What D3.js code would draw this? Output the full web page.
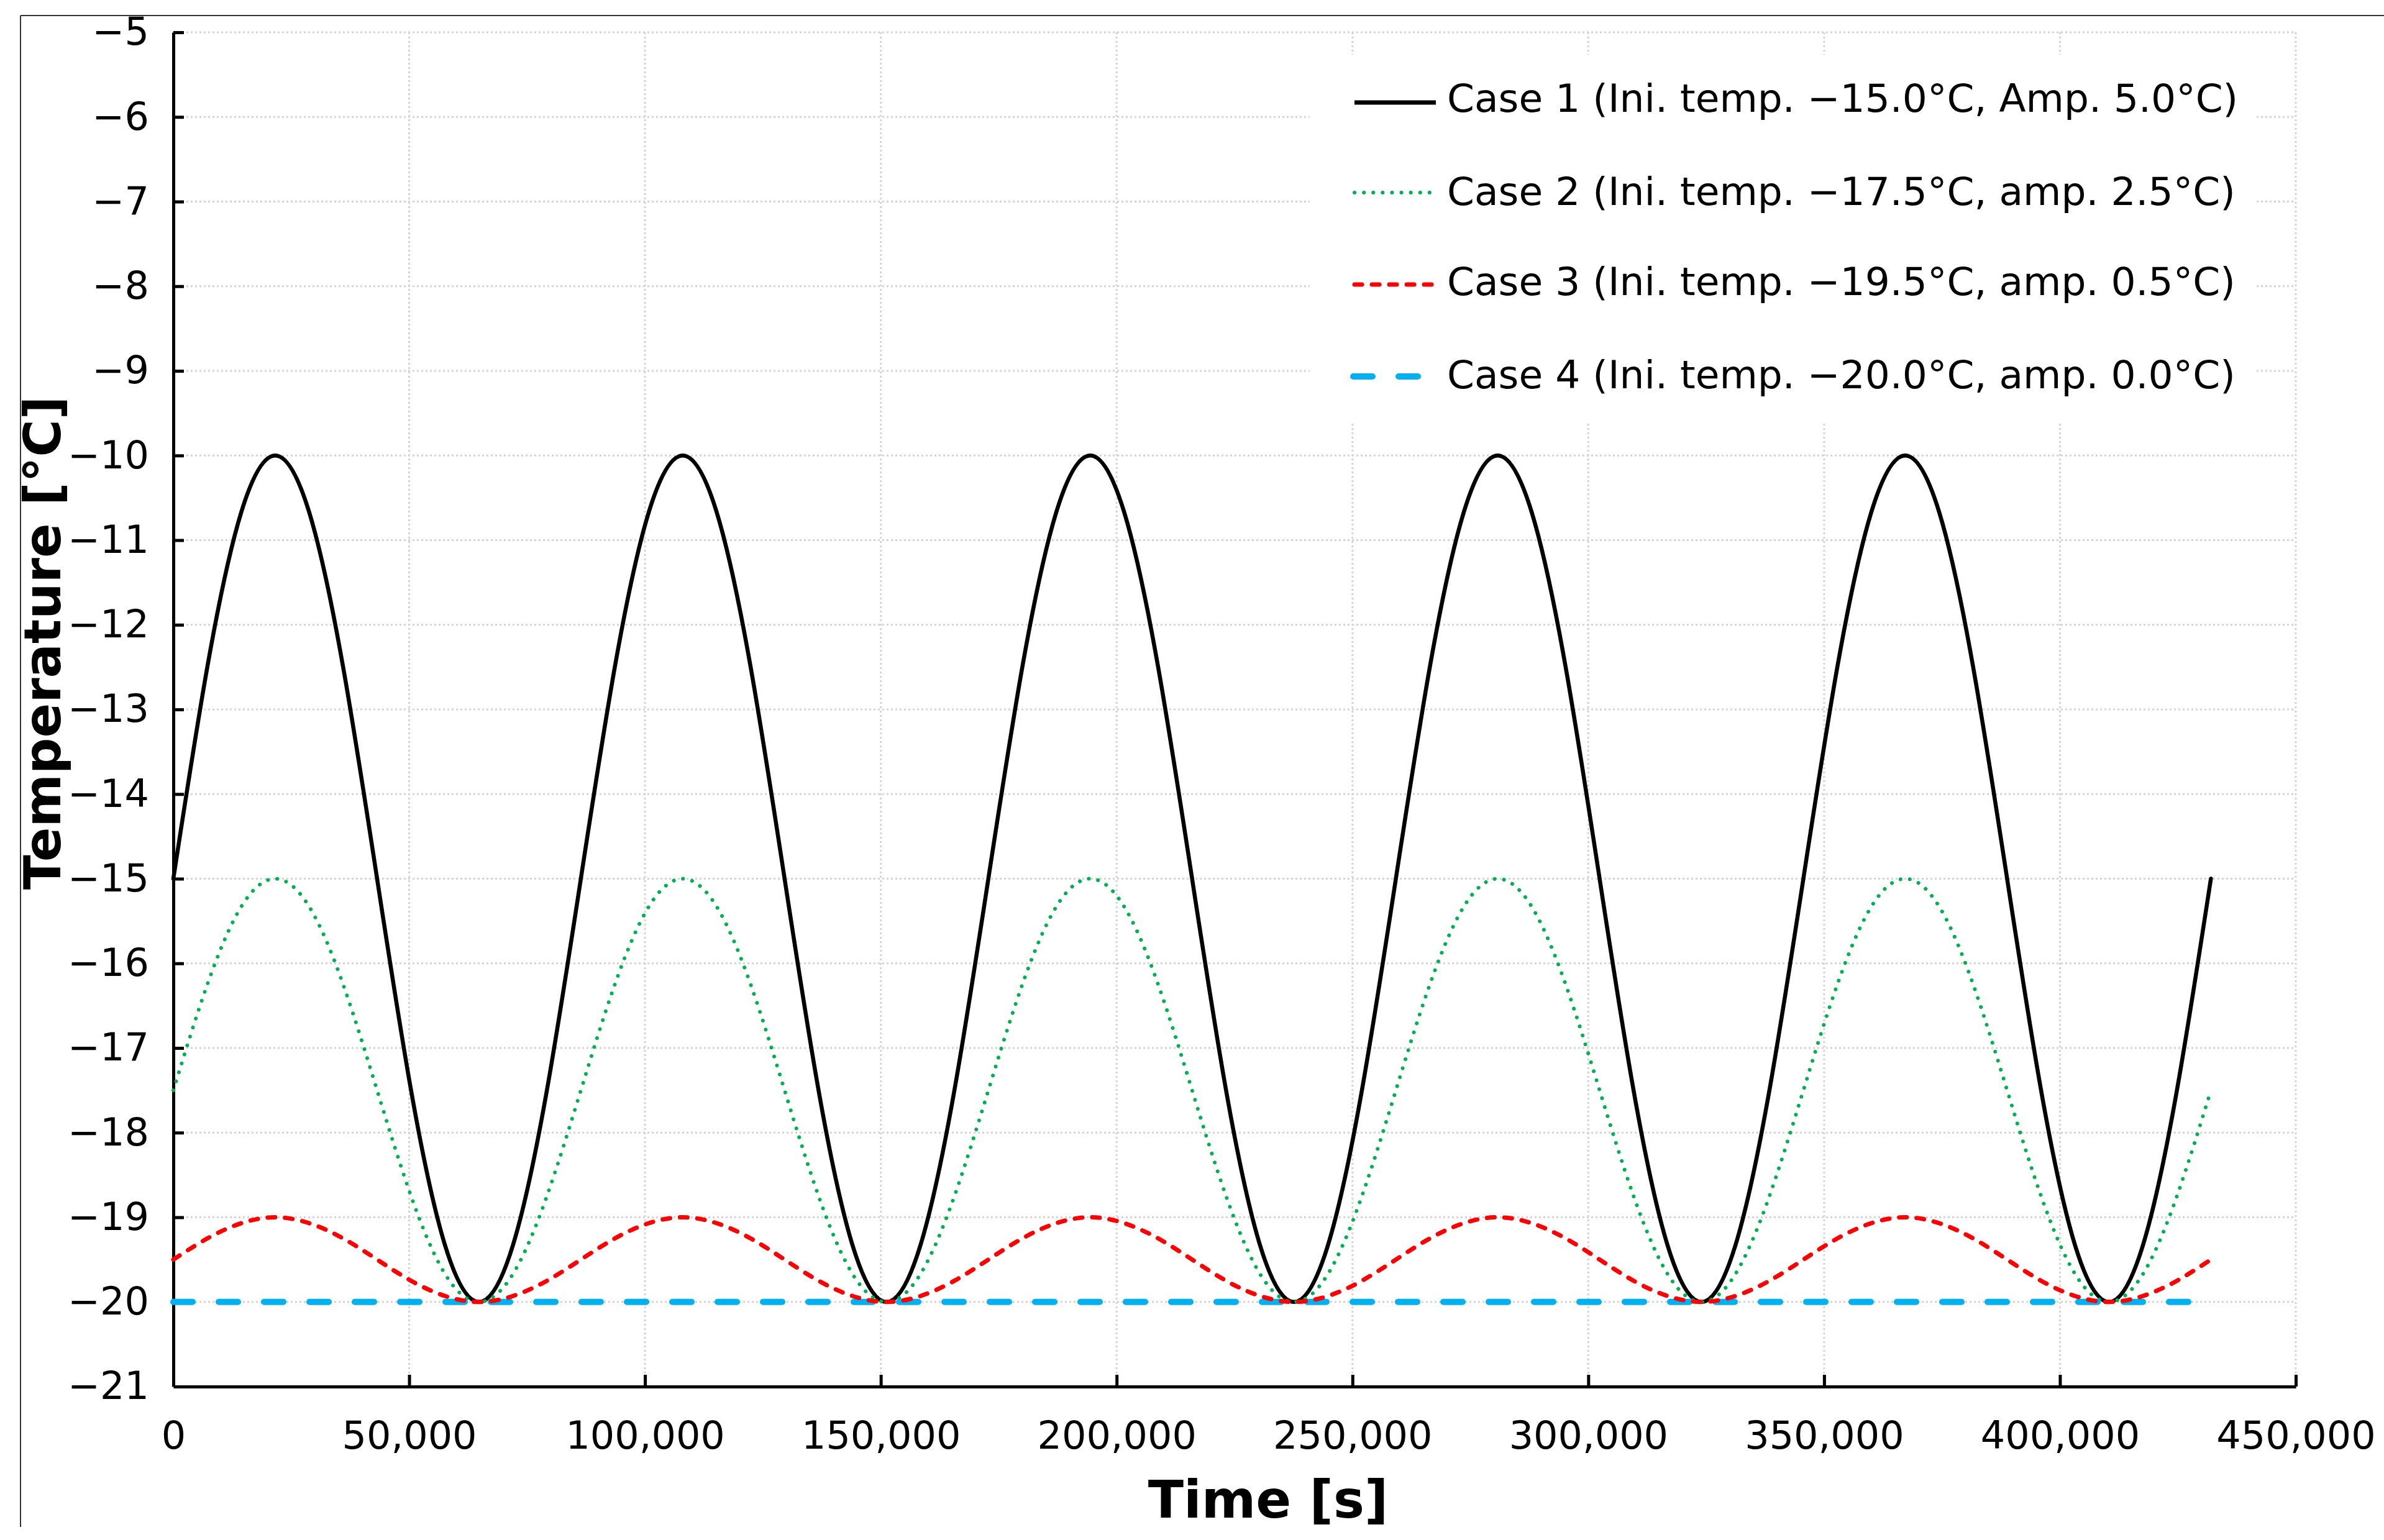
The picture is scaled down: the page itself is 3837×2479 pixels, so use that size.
<!DOCTYPE html>
<html>
<head>
<meta charset="utf-8">
<script src="https://cdn.jsdelivr.net/npm/d3@7"></script>
<style>
  body { margin: 0; background: #fff; }
  svg { display: block; font-family: "DejaVu Sans", Verdana, sans-serif; }
</style>
</head>
<body>
<svg id="chart" width="3837" height="2479"></svg>
<script>
// sample times (every 2 h) and temperatures
const timeSec = [
  0, 7200, 14400, 21600, 28800, 36000, 43200, 50400, 57600, 64800, 72000, 79200,
  86400, 93600, 100800, 108000, 115200, 122400, 129600, 136800, 144000, 151200, 158400, 165600,
  172800, 180000, 187200, 194400, 201600, 208800, 216000, 223200, 230400, 237600, 244800, 252000,
  259200, 266400, 273600, 280800, 288000, 295200, 302400, 309600, 316800, 324000, 331200, 338400,
  345600, 352800, 360000, 367200, 374400, 381600, 388800, 396000, 403200, 410400, 417600, 424800,
  432000
];

const case1 = [
  -15, -12.5, -10.67, -10, -10.67, -12.5, -15, -17.5, -19.33, -20, -19.33, -17.5,
  -15, -12.5, -10.67, -10, -10.67, -12.5, -15, -17.5, -19.33, -20, -19.33, -17.5,
  -15, -12.5, -10.67, -10, -10.67, -12.5, -15, -17.5, -19.33, -20, -19.33, -17.5,
  -15, -12.5, -10.67, -10, -10.67, -12.5, -15, -17.5, -19.33, -20, -19.33, -17.5,
  -15, -12.5, -10.67, -10, -10.67, -12.5, -15, -17.5, -19.33, -20, -19.33, -17.5,
  -15
];

const case2 = [
  -17.5, -16.25, -15.33, -15, -15.33, -16.25, -17.5, -18.75, -19.67, -20, -19.67, -18.75,
  -17.5, -16.25, -15.33, -15, -15.33, -16.25, -17.5, -18.75, -19.67, -20, -19.67, -18.75,
  -17.5, -16.25, -15.33, -15, -15.33, -16.25, -17.5, -18.75, -19.67, -20, -19.67, -18.75,
  -17.5, -16.25, -15.33, -15, -15.33, -16.25, -17.5, -18.75, -19.67, -20, -19.67, -18.75,
  -17.5, -16.25, -15.33, -15, -15.33, -16.25, -17.5, -18.75, -19.67, -20, -19.67, -18.75,
  -17.5
];

const case3 = [
  -19.5, -19.25, -19.07, -19, -19.07, -19.25, -19.5, -19.75, -19.93, -20, -19.93, -19.75,
  -19.5, -19.25, -19.07, -19, -19.07, -19.25, -19.5, -19.75, -19.93, -20, -19.93, -19.75,
  -19.5, -19.25, -19.07, -19, -19.07, -19.25, -19.5, -19.75, -19.93, -20, -19.93, -19.75,
  -19.5, -19.25, -19.07, -19, -19.07, -19.25, -19.5, -19.75, -19.93, -20, -19.93, -19.75,
  -19.5, -19.25, -19.07, -19, -19.07, -19.25, -19.5, -19.75, -19.93, -20, -19.93, -19.75,
  -19.5
];

const case4Time = [0, 432000];
const case4 = [-20, -20];

const xTicks = [0, 50000, 100000, 150000, 200000, 250000, 300000, 350000, 400000, 450000];
const yTicks = [-21, -20, -19, -18, -17, -16, -15, -14, -13, -12, -11, -10, -9, -8, -7, -6, -5];

const legendLabels = [
  "Case 1 (Ini. temp. \u221215.0\u00b0C, Amp. 5.0\u00b0C)",
  "Case 2 (Ini. temp. \u221217.5\u00b0C, amp. 2.5\u00b0C)",
  "Case 3 (Ini. temp. \u221219.5\u00b0C, amp. 0.5\u00b0C)",
  "Case 4 (Ini. temp. \u221220.0\u00b0C, amp. 0.0\u00b0C)"
];

const styles = [
  { color: "#000000", width: 6.5, dash: null },
  { color: "#00B050", width: 6, dash: "0.1,15" },
  { color: "#FF0000", width: 7, dash: "12,16" },
  { color: "#00B0F0", width: 10, dash: "31,42" }
];

const svg = d3.select("#chart");
const plotL = 279, plotR = 3695, plotT = 52, plotB = 2232;

const x = d3.scaleLinear().domain([0, 450000]).range([plotL, plotR]);
const y = d3.scaleLinear().domain([-21, -5]).range([plotB, plotT]);

// outer frame (top and left only)
svg.append("line").attr("x1", 33).attr("x2", 3837).attr("y1", 25).attr("y2", 25)
  .attr("stroke", "#333").attr("stroke-width", 2);
svg.append("line").attr("x1", 33).attr("x2", 33).attr("y1", 25).attr("y2", 2458)
  .attr("stroke", "#333").attr("stroke-width", 2);

// grid
const grid = svg.append("g").attr("stroke", "#d4d4d4").attr("stroke-width", 3).attr("stroke-dasharray", "3,4");
grid.selectAll(".hg").data(yTicks.filter(d => d > -21)).enter().append("line")
  .attr("x1", plotL).attr("x2", plotR)
  .attr("y1", d => y(d)).attr("y2", d => y(d));
grid.selectAll(".vg").data(xTicks.filter(d => d > 0)).enter().append("line")
  .attr("x1", d => x(d)).attr("x2", d => x(d))
  .attr("y1", plotT).attr("y2", plotB);

// legend background hides the grid behind it
svg.append("rect").attr("x", 2108).attr("y", 88).attr("width", 1523).attr("height", 592).attr("fill", "#fff");

// axes
const xAxis = d3.axisBottom(x).tickValues(xTicks).tickFormat(d3.format(","))
  .tickSizeInner(-19).tickSizeOuter(0).tickPadding(56);
const yAxis = d3.axisLeft(y).tickValues(yTicks).tickFormat(d3.format("d"))
  .tickSizeInner(-17).tickSizeOuter(0).tickPadding(39);

const gx = svg.append("g").attr("transform", `translate(0,${plotB})`).call(xAxis);
const gy = svg.append("g").attr("transform", `translate(${plotL},0)`).call(yAxis);

[gx, gy].forEach(g => {
  g.select(".domain").attr("stroke", "#000").attr("stroke-width", 5);
  g.selectAll(".tick line").attr("stroke", "#000").attr("stroke-width", 5);
  g.selectAll(".tick text").attr("fill", "#000").style("font-size", "62px")
    .style("font-family", '"DejaVu Sans", Verdana, sans-serif');
});
gy.selectAll(".tick").filter(d => d === -21).select("line").remove();

// series
const line = d3.line().x(d => x(d[0])).y(d => y(d[1])).curve(d3.curveNatural);
const seriesData = [
  d3.zip(timeSec, case1),
  d3.zip(timeSec, case2),
  d3.zip(timeSec, case3),
  d3.zip(case4Time, case4)
];
const drawOrder = [0, 1, 3, 2];
drawOrder.forEach(i => {
  const s = styles[i];
  svg.append("path").datum(seriesData[i])
    .attr("d", line)
    .attr("fill", "none")
    .attr("stroke", s.color)
    .attr("stroke-width", s.width)
    .attr("stroke-linecap", "round")
    .attr("stroke-linejoin", "round")
    .attr("stroke-dasharray", s.dash);
});

// legend
const legendLineY = [165, 310, 458, 606];
const legendTextY = [180, 330, 475, 625];
const legendX = [[2180, 2311], [2180, 2312], [2180, 2311], [2178, 2282]];
const lg = svg.append("g");
legendLabels.forEach((lab, i) => {
  const s = styles[i];
  lg.append("line")
    .attr("x1", legendX[i][0]).attr("x2", legendX[i][1])
    .attr("y1", legendLineY[i]).attr("y2", legendLineY[i])
    .attr("stroke", s.color)
    .attr("stroke-width", i === 0 ? 7 : s.width)
    .attr("stroke-linecap", i === 0 ? "butt" : "round")
    .attr("stroke-dasharray", s.dash);
  lg.append("text").attr("x", 2329).attr("y", legendTextY[i])
    .style("font-size", "63px").attr("fill", "#000").text(lab);
});

// axis titles
svg.append("text").attr("x", 2041).attr("y", 2443).attr("text-anchor", "middle")
  .style("font-size", "84px").style("font-weight", "bold").text("Time [s]");
svg.append("text").attr("transform", "translate(97,1035) rotate(-90)").attr("text-anchor", "middle")
  .style("font-size", "82px").style("font-weight", "bold").text("Temperature [\u00b0C]");
</script>
</body>
</html>
